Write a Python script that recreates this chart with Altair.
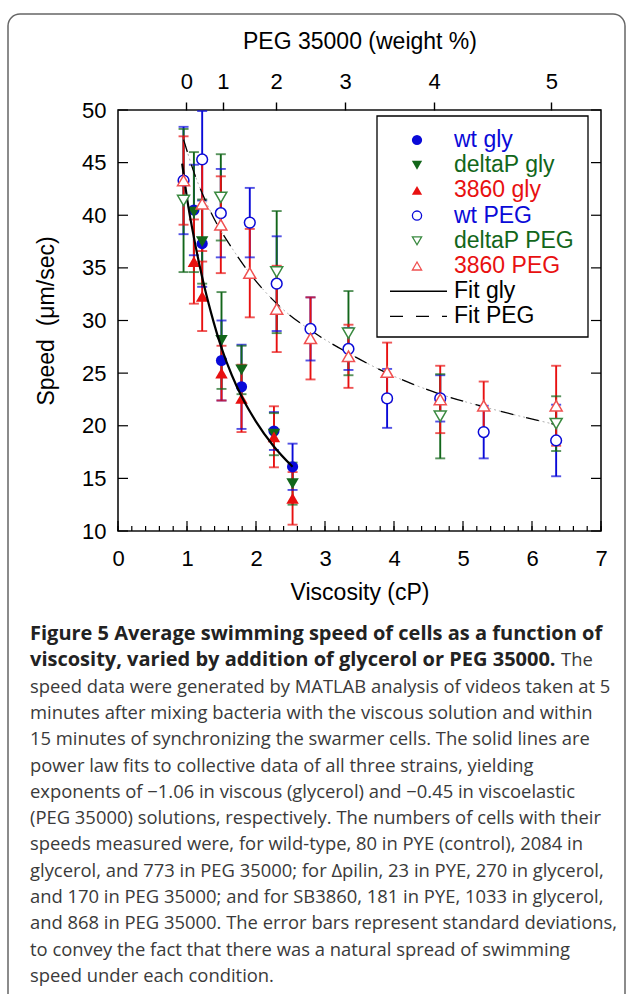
import altair as alt
import pandas as pd
import numpy as np

# ---------------- data ----------------
gly_visc = [1.10, 1.22, 1.50, 1.79, 2.26, 2.53]
wt_gly = [40.5, 37.3, 26.2, 23.7, 19.5, 16.1]
wt_gly_sd = [4.3, 4.1, 3.8, 4.0, 1.8, 2.2]
dp_gly = [40.3, 37.5, 28.1, 25.3, 19.2, 14.5]
dp_gly_sd = [5.7, 4.0, 4.6, 2.3, 2.0, 2.0]
r_gly = [35.6, 32.3, 25.0, 22.6, 18.95, 13.1]
r_gly_sd = [4.0, 3.3, 2.6, 3.2, 2.9, 2.5]

peg_visc = [0.95, 1.22, 1.49, 1.91, 2.30, 2.79, 3.34, 3.90, 4.67, 5.30, 6.35]
wt_peg = [43.3, 45.3, 40.2, 39.3, 33.5, 29.2, 27.3, 22.6, 22.6, 19.4, 18.6]
wt_peg_sd = [5.1, 4.6, 4.2, 3.3, 4.5, 3.0, 2.0, 2.8, 2.2, 2.5, 3.4]
dp_peg_visc = [0.95, 1.49, 2.30, 3.34, 4.67, 6.35]
dp_peg = [41.4, 41.7, 34.6, 28.8, 20.9, 20.2]
dp_peg_sd = [6.8, 4.1, 5.8, 4.0, 4.0, 2.6]
r_peg = [43.3, 41.1, 39.1, 34.5, 31.1, 28.3, 26.6, 25.1, 22.5, 21.9, 21.9]
r_peg_sd = [4.2, 4.5, 4.6, 4.2, 4.1, 3.9, 3.0, 2.8, 3.2, 2.3, 3.8]

fit_gly_visc = [0.93, 1.02, 1.10, 1.22, 1.35, 1.50, 1.65, 1.79, 2.00, 2.25, 2.53]
fit_gly = [44.9, 40.8, 37.9, 34.1, 30.7, 27.4, 24.8, 22.8, 20.4, 18.1, 16.1]
fit_peg_visc = [0.95, 1.10, 1.33, 1.70, 2.11, 2.35, 2.83, 3.34, 3.90, 4.67, 5.30, 6.35]
fit_peg = [47.2, 44.1, 40.5, 36.4, 32.9, 31.3, 28.9, 26.9, 25.0, 23.0, 21.8, 20.1]

peg_pct_labels = ["0", "1", "2", "3", "4", "5"]
peg_pct_visc = [0.99, 1.52, 2.29, 3.29, 4.58, 6.28]

x_ticks = [0, 1, 2, 3, 4, 5, 6, 7]
y_ticks = [10, 15, 20, 25, 30, 35, 40, 45, 50]

legend_labels = ["wt gly", "deltaP gly", "3860 gly", "wt PEG", "deltaP PEG", "3860 PEG", "Fit gly", "Fit PEG"]

caption_bold = ["Figure 5 Average swimming speed of cells as a function of",
                "viscosity, varied by addition of glycerol or PEG 35000."]
caption_after_bold = "The"
caption_lines = [
    "speed data were generated by MATLAB analysis of videos taken at 5",
    "minutes after mixing bacteria with the viscous solution and within",
    "15 minutes of synchronizing the swarmer cells. The solid lines are",
    "power law fits to collective data of all three strains, yielding",
    "exponents of \u22121.06 in viscous (glycerol) and \u22120.45 in viscoelastic",
    "(PEG 35000) solutions, respectively. The numbers of cells with their",
    "speeds measured were, for wild-type, 80 in PYE (control), 2084 in",
    "glycerol, and 773 in PEG 35000; for \u0394pilin, 23 in PYE, 270 in glycerol,",
    "and 170 in PEG 35000; and for SB3860, 181 in PYE, 1033 in glycerol,",
    "and 868 in PEG 35000. The error bars represent standard deviations,",
    "to convey the fact that there was a natural spread of swimming",
    "speed under each condition.",
]

# ---------------- styling ----------------
BLUE = "#0a0ad8"
GREEN = "#12661a"
GREEN_OPEN = "#3a8a40"
RED = "#e81010"
RED_OPEN = "#f05050"
AXFONT = "Liberation Sans"
CAPFONT = "Open Sans"
W, H = 483, 421

series = [
    ("wt gly", gly_visc, wt_gly, wt_gly_sd, BLUE, BLUE, "circle", True, 125),
    ("deltaP gly", gly_visc, dp_gly, dp_gly_sd, GREEN, GREEN, "triangle-down", True, 155),
    ("3860 gly", gly_visc, r_gly, r_gly_sd, RED, RED, "triangle-up", True, 155),
    ("wt PEG", peg_visc, wt_peg, wt_peg_sd, BLUE, BLUE, "circle", False, 115),
    ("deltaP PEG", dp_peg_visc, dp_peg, dp_peg_sd, GREEN, GREEN_OPEN, "triangle-down", False, 145),
    ("3860 PEG", peg_visc, r_peg, r_peg_sd, RED, RED_OPEN, "triangle-up", False, 145),
]
rows = []
for name, xs, ys, sds, bc, mc, shp, filled, sz in series:
    for xv, yv, sv in zip(xs, ys, sds):
        rows.append(dict(series=name, visc=xv, speed=yv, lo=yv - sv, hi=yv + sv,
                         bcolor=bc, mcolor=mc, shape=shp, filled=filled, sz=sz))
df = pd.DataFrame(rows)

xs_ = alt.Scale(domain=[0, 7], nice=False, zero=False)
ys_ = alt.Scale(domain=[10, 50], nice=False, zero=False)


def px_y(field):
    return alt.Y(field, scale=None, axis=None)


axis_common = dict(tickSize=0, domain=False, grid=False, labelFontSize=22, titleFontSize=23,
                   labelFont=AXFONT, titleFont=AXFONT, titleFontWeight="normal",
                   labelColor="black", titleColor="black", labelFlush=False, labelOverlap=False)

# error bars (carry the bottom axis)
bars = alt.Chart(df).mark_rule(strokeWidth=1.9).encode(
    x=alt.X("visc:Q", scale=xs_, axis=alt.Axis(
        values=x_ticks, title="Viscosity (cP)", labelPadding=17, titlePadding=12, **axis_common)),
    y=alt.Y("lo:Q", scale=ys_, axis=None),
    y2="hi:Q",
    color=alt.Color("bcolor:N", scale=None),
)
# left axis carrier
y_axis = alt.Chart(pd.DataFrame({"v": y_ticks})).mark_point(opacity=0).encode(
    y=alt.Y("v:Q", scale=ys_, axis=alt.Axis(
        values=y_ticks, title="Speed\u00a0\u00a0(\u03bcm/sec)", labelPadding=12, titlePadding=23,
        orient="left", **axis_common)),
    x=alt.value(0),
)
cap_lo = alt.Chart(df).mark_tick(orient="horizontal", size=10, thickness=1.9).encode(
    x=alt.X("visc:Q", scale=xs_, axis=None),
    y=alt.Y("lo:Q", scale=ys_, axis=None),
    color=alt.Color("bcolor:N", scale=None),
)
cap_hi = alt.Chart(df).mark_tick(orient="horizontal", size=10, thickness=1.9).encode(
    x=alt.X("visc:Q", scale=xs_, axis=None),
    y=alt.Y("hi:Q", scale=ys_, axis=None),
    color=alt.Color("bcolor:N", scale=None),
)

filled_pts = alt.Chart(df[df.filled]).mark_point(filled=True, opacity=1, strokeWidth=0).encode(
    x=alt.X("visc:Q", scale=xs_, axis=None),
    y=alt.Y("speed:Q", scale=ys_, axis=None),
    shape=alt.Shape("shape:N", scale=None),
    color=alt.Color("mcolor:N", scale=None),
    size=alt.Size("sz:Q", scale=None),
)
open_pts = alt.Chart(df[~df.filled]).mark_point(filled=False, fill="white", fillOpacity=1,
                                                opacity=1, strokeWidth=1.5).encode(
    x=alt.X("visc:Q", scale=xs_, axis=None),
    y=alt.Y("speed:Q", scale=ys_, axis=None),
    shape=alt.Shape("shape:N", scale=None),
    stroke=alt.Stroke("mcolor:N", scale=None),
    size=alt.Size("sz:Q", scale=None),
)

fg = pd.DataFrame({"visc": fit_gly_visc, "speed": fit_gly})
fp = pd.DataFrame({"visc": fit_peg_visc, "speed": fit_peg})
fit_g = alt.Chart(fg).mark_line(color="black", strokeWidth=2.2, interpolate="monotone").encode(
    x=alt.X("visc:Q", scale=xs_, axis=None), y=alt.Y("speed:Q", scale=ys_, axis=None))
fit_p_under = alt.Chart(fp).mark_line(color="#b0b0b0", strokeWidth=1, strokeDash=[2, 3],
                                      interpolate="monotone").encode(
    x=alt.X("visc:Q", scale=xs_, axis=None), y=alt.Y("speed:Q", scale=ys_, axis=None))
fit_p = alt.Chart(fp).mark_line(color="black", strokeWidth=1.3, strokeDash=[13, 13],
                                interpolate="monotone").encode(
    x=alt.X("visc:Q", scale=xs_, axis=None), y=alt.Y("speed:Q", scale=ys_, axis=None))

# inward ticks
minor_vals = [round(v, 1) for v in np.arange(0, 7.001, 0.2)]
bminor = alt.Chart(pd.DataFrame({"v": minor_vals})).mark_rule(color="black", strokeWidth=1.2).encode(
    x=alt.X("v:Q", scale=xs_, axis=None), y=alt.value(H), y2=alt.value(H - 5))
bmajor = alt.Chart(pd.DataFrame({"v": x_ticks})).mark_rule(color="black", strokeWidth=1.2).encode(
    x=alt.X("v:Q", scale=xs_, axis=None), y=alt.value(H), y2=alt.value(H - 10))
lticks = alt.Chart(pd.DataFrame({"v": y_ticks})).mark_rule(color="black", strokeWidth=1.2).encode(
    y=alt.Y("v:Q", scale=ys_, axis=None), x=alt.value(0), x2=alt.value(10))
rticks = alt.Chart(pd.DataFrame({"v": y_ticks})).mark_rule(color="black", strokeWidth=1.2).encode(
    y=alt.Y("v:Q", scale=ys_, axis=None), x=alt.value(W), x2=alt.value(W - 10))

# top PEG axis
label_expr = " : ".join(f"datum.value == {v} ? '{l}'" for v, l in zip(peg_pct_visc, peg_pct_labels)) + " : ''"
top_common = dict(axis_common)
top_common.update(tickSize=8)
top_axis = alt.Chart(pd.DataFrame({"v": peg_pct_visc})).mark_point(opacity=0).encode(
    x=alt.X("v:Q", scale=xs_, axis=alt.Axis(
        orient="top", values=peg_pct_visc, labelExpr=label_expr, tickWidth=1.4,
        tickColor="black", labelPadding=9, title="PEG 35000 (weight %)", titlePadding=17,
        **top_common)),
    y=alt.value(0),
)

# legend
LEG_X0, LEG_Y0, LEG_DY = 299, 30, 25.2
leg_rows = []
for i, (name, xs, ys, sds, bc, mc, shp, filled, sz) in enumerate(series):
    leg_rows.append(dict(label=name, py=LEG_Y0 + i * LEG_DY, color=bc, mcolor=mc,
                         shape=shp, filled=filled))
leg_rows.append(dict(label=legend_labels[6], py=LEG_Y0 + 6 * LEG_DY, color="black", mcolor="black",
                     shape="circle", filled=True))
leg_rows.append(dict(label=legend_labels[7], py=LEG_Y0 + 7 * LEG_DY, color="black", mcolor="black",
                     shape="circle", filled=True))
leg = pd.DataFrame(leg_rows)
leg_sym = leg.iloc[:6]
leg_box = alt.Chart(alt.Data(values=[{}])).mark_rect(fill="white", stroke="black", strokeWidth=1.3).encode(
    x=alt.value(259), x2=alt.value(470), y=alt.value(6), y2=alt.value(227))
leg_fill = alt.Chart(leg_sym[leg_sym.filled]).mark_point(filled=True, opacity=1, strokeWidth=0, size=105).encode(
    x=alt.value(LEG_X0), y=px_y("py:Q"),
    shape=alt.Shape("shape:N", scale=None), color=alt.Color("mcolor:N", scale=None))
leg_open = alt.Chart(leg_sym[~leg_sym.filled]).mark_point(filled=False, opacity=1, strokeWidth=1.3, size=85).encode(
    x=alt.value(LEG_X0), y=px_y("py:Q"),
    shape=alt.Shape("shape:N", scale=None), stroke=alt.Stroke("mcolor:N", scale=None))
leg_text = alt.Chart(leg).mark_text(align="left", baseline="middle", font=AXFONT, fontSize=23).encode(
    x=alt.value(336), y=px_y("py:Q"), text="label:N", color=alt.Color("color:N", scale=None))
leg_l1 = alt.Chart(alt.Data(values=[{}])).mark_rule(color="black", strokeWidth=1.6).encode(
    x=alt.value(272), x2=alt.value(329), y=alt.value(LEG_Y0 + 6 * LEG_DY))
leg_l2 = alt.Chart(alt.Data(values=[{}])).mark_rule(color="black", strokeWidth=1.3, strokeDash=[13, 13]).encode(
    x=alt.value(272), x2=alt.value(329), y=alt.value(LEG_Y0 + 7 * LEG_DY))

# outer rounded frame
outer = alt.Chart(alt.Data(values=[{}])).mark_rect(fillOpacity=0, stroke="#666666", strokeWidth=1.5,
                                                   cornerRadius=12).encode(
    x=alt.value(-110), x2=alt.value(507), y=alt.value(-96), y2=alt.value(910))

# caption
CAP_X, CAP_Y0, CAP_DY = -88, 524, 26.3
BOLD_SIZE, BODY_SIZE = 20, 18.4
cb = pd.DataFrame({"text": caption_bold, "py": [CAP_Y0 + i * CAP_DY for i in range(len(caption_bold))]})
cn = pd.DataFrame({"text": caption_lines,
                   "py": [CAP_Y0 + (i + 2) * CAP_DY for i in range(len(caption_lines))]})
cap_b = alt.Chart(cb).mark_text(align="left", baseline="middle", font=CAPFONT, fontSize=BOLD_SIZE,
                                fontWeight="bold", color="#222222").encode(
    x=alt.value(CAP_X), y=px_y("py:Q"), text="text:N")
cap_n = alt.Chart(cn).mark_text(align="left", baseline="middle", font=CAPFONT, fontSize=BODY_SIZE,
                                color="#3a3a3a").encode(
    x=alt.value(CAP_X), y=px_y("py:Q"), text="text:N")
cap_the = alt.Chart(alt.Data(values=[{"t": caption_after_bold}])).mark_text(
    align="left", baseline="middle", font=CAPFONT, fontSize=BODY_SIZE, color="#3a3a3a").encode(
    x=alt.value(443), y=alt.value(CAP_Y0 + CAP_DY), text="t:N")

chart = alt.layer(
    outer, y_axis, bars, cap_lo, cap_hi, filled_pts, fit_p_under, fit_p, fit_g, open_pts,
    bminor, bmajor, lticks, rticks, top_axis,
    leg_box, leg_fill, leg_open, leg_text, leg_l1, leg_l2,
    cap_b, cap_n, cap_the,
).resolve_axis(x="independent", y="independent").properties(
    width=W, height=H,
    autosize=alt.AutoSizeParams(type="none"),
    padding={"left": 118, "top": 110, "right": 28, "bottom": 463},
    background="white",
).configure_view(stroke="#111111", strokeWidth=1.6)

chart.save("out.html", embed_options={"renderer": "svg", "actions": False})
